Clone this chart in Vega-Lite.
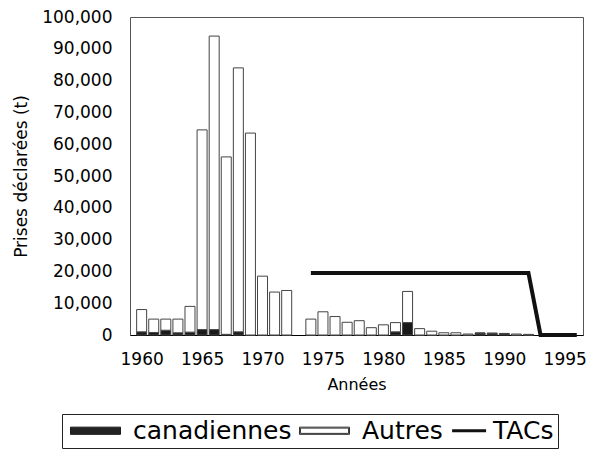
{
  "$schema": "https://vega.github.io/schema/vega-lite/v6.json",
  "autosize": {"type": "none"},
  "width": 453,
  "height": 318,
  "padding": {"left": 130, "top": 17, "right": 9, "bottom": 116},
  "background": "white",
  "config": {
    "font": "DejaVu Sans",
    "view": {"stroke": "#555", "strokeWidth": 1}
  },
  "datasets": {
    "captures": [
      {"annee": 1960, "serie": "canadiennes", "prises": 1000}, {"annee": 1960, "serie": "Autres", "prises": 7000},
      {"annee": 1961, "serie": "canadiennes", "prises": 800}, {"annee": 1961, "serie": "Autres", "prises": 4200},
      {"annee": 1962, "serie": "canadiennes", "prises": 1500}, {"annee": 1962, "serie": "Autres", "prises": 3500},
      {"annee": 1963, "serie": "canadiennes", "prises": 700}, {"annee": 1963, "serie": "Autres", "prises": 4300},
      {"annee": 1964, "serie": "canadiennes", "prises": 900}, {"annee": 1964, "serie": "Autres", "prises": 8100},
      {"annee": 1965, "serie": "canadiennes", "prises": 1700}, {"annee": 1965, "serie": "Autres", "prises": 62800},
      {"annee": 1966, "serie": "canadiennes", "prises": 1700}, {"annee": 1966, "serie": "Autres", "prises": 92300},
      {"annee": 1967, "serie": "canadiennes", "prises": 200}, {"annee": 1967, "serie": "Autres", "prises": 55800},
      {"annee": 1968, "serie": "canadiennes", "prises": 1000}, {"annee": 1968, "serie": "Autres", "prises": 83000},
      {"annee": 1969, "serie": "canadiennes", "prises": 0}, {"annee": 1969, "serie": "Autres", "prises": 63500},
      {"annee": 1970, "serie": "canadiennes", "prises": 0}, {"annee": 1970, "serie": "Autres", "prises": 18500},
      {"annee": 1971, "serie": "canadiennes", "prises": 0}, {"annee": 1971, "serie": "Autres", "prises": 13500},
      {"annee": 1972, "serie": "canadiennes", "prises": 0}, {"annee": 1972, "serie": "Autres", "prises": 14000},
      {"annee": 1974, "serie": "canadiennes", "prises": 0}, {"annee": 1974, "serie": "Autres", "prises": 5000},
      {"annee": 1975, "serie": "canadiennes", "prises": 0}, {"annee": 1975, "serie": "Autres", "prises": 7300},
      {"annee": 1976, "serie": "canadiennes", "prises": 0}, {"annee": 1976, "serie": "Autres", "prises": 5800},
      {"annee": 1977, "serie": "canadiennes", "prises": 0}, {"annee": 1977, "serie": "Autres", "prises": 4000},
      {"annee": 1978, "serie": "canadiennes", "prises": 0}, {"annee": 1978, "serie": "Autres", "prises": 4500},
      {"annee": 1979, "serie": "canadiennes", "prises": 0}, {"annee": 1979, "serie": "Autres", "prises": 2300},
      {"annee": 1980, "serie": "canadiennes", "prises": 0}, {"annee": 1980, "serie": "Autres", "prises": 3200},
      {"annee": 1981, "serie": "canadiennes", "prises": 1000}, {"annee": 1981, "serie": "Autres", "prises": 2900},
      {"annee": 1982, "serie": "canadiennes", "prises": 3900}, {"annee": 1982, "serie": "Autres", "prises": 9800},
      {"annee": 1983, "serie": "canadiennes", "prises": 0}, {"annee": 1983, "serie": "Autres", "prises": 2000},
      {"annee": 1984, "serie": "canadiennes", "prises": 0}, {"annee": 1984, "serie": "Autres", "prises": 1200},
      {"annee": 1985, "serie": "canadiennes", "prises": 0}, {"annee": 1985, "serie": "Autres", "prises": 700},
      {"annee": 1986, "serie": "canadiennes", "prises": 0}, {"annee": 1986, "serie": "Autres", "prises": 700},
      {"annee": 1987, "serie": "canadiennes", "prises": 0}, {"annee": 1987, "serie": "Autres", "prises": 300},
      {"annee": 1988, "serie": "canadiennes", "prises": 600}, {"annee": 1988, "serie": "Autres", "prises": 0},
      {"annee": 1989, "serie": "canadiennes", "prises": 500}, {"annee": 1989, "serie": "Autres", "prises": 100},
      {"annee": 1990, "serie": "canadiennes", "prises": 400}, {"annee": 1990, "serie": "Autres", "prises": 100},
      {"annee": 1991, "serie": "canadiennes", "prises": 0}, {"annee": 1991, "serie": "Autres", "prises": 300},
      {"annee": 1992, "serie": "canadiennes", "prises": 0}, {"annee": 1992, "serie": "Autres", "prises": 200}
    ],
    "tac": [
      {"annee": 1974, "serie": "TACs", "prises": 19500},
      {"annee": 1992, "serie": "TACs", "prises": 19500},
      {"annee": 1993, "serie": "TACs", "prises": 0},
      {"annee": 1994, "serie": "TACs", "prises": 0},
      {"annee": 1996, "serie": "TACs", "prises": 0}
    ]
  },
  "encoding": {
    "x": {
      "field": "annee", "type": "quantitative",
      "scale": {"domain": [1959.45, 1996.1], "nice": false, "zero": false},
      "axis": {
        "values": [1960, 1965, 1970, 1975, 1980, 1985, 1990, 1995],
        "format": "d", "title": "Années", "ticks": false, "grid": false,
        "domainColor": "#000", "labelFontSize": 17, "labelColor": "#000",
        "labelPadding": 16, "titleFontSize": 16, "titleFontWeight": "normal",
        "titleColor": "#000", "titlePadding": 9, "labelFont": "DejaVu Sans", "titleFont": "DejaVu Sans"
      }
    },
    "y": {
      "field": "prises", "type": "quantitative",
      "scale": {"domain": [0, 100000], "nice": false},
      "axis": {
        "values": [0, 10000, 20000, 30000, 40000, 50000, 60000, 70000, 80000, 90000, 100000],
        "format": ",d", "title": "Prises déclarées (t)", "ticks": false, "grid": false,
        "domain": false, "labelFontSize": 17, "labelColor": "#000", "labelPadding": 18,
        "titleFontSize": 17, "titleFontWeight": "normal", "titleColor": "#000", "titlePadding": 11,
        "labelFont": "DejaVu Sans", "titleFont": "DejaVu Sans"
      }
    },
    "color": {
      "field": "serie", "type": "nominal",
      "sort": ["canadiennes", "Autres", "TACs"],
      "scale": {"domain": ["canadiennes", "Autres", "TACs"], "range": ["#1a1a1a", "#333333", "#111111"]},
      "legend": {
        "orient": "none", "legendX": -68, "legendY": 397, "direction": "horizontal",
        "title": null, "labelFontSize": 25, "labelFont": "DejaVu Sans", "labelColor": "#000",
        "symbolSize": 256, "symbolType": "M-1,-0.45H5.25V0.45H-1Z", "labelOffset": 42, "columnPadding": 3, "padding": 4,
        "symbolStrokeWidth": 1,
        "strokeColor": "#222",
        "encode": {
          "legend": {
            "update": {
              "width": {"value": 620},
              "height": {"value": 80}
            }
          },
          "labels": {
            "update": {
              "dx": {"signal": "datum.value === 'TACs' ? -44 : 0"}
            }
          },
          "symbols": {
            "update": {
              "shape": {"signal": "datum.value === 'TACs' ? 'M-3.8,0H0.45' : (datum.value === 'Autres' ? 'M-1,-0.45H5.25V0.45H-1ZM-0.88,-0.33V0.33H5.13V-0.33Z' : 'M-1,-0.45H5.25V0.45H-1Z')"},
              "fill": {"signal": "datum.value === 'canadiennes' ? '#222' : (datum.value === 'Autres' ? '#fff' : 'transparent')"},
              "strokeWidth": {"signal": "datum.value === 'TACs' ? 3 : 1"},
              "opacity": {"value": 1}
            }
          }
        }
      }
    }
  },
  "layer": [
    {
      "data": {"name": "captures"},
      "mark": {"type": "bar", "width": 10, "stroke": "#444", "strokeWidth": 1},
      "encoding": {
        "fill": {"condition": {"test": "datum.serie === 'Autres'", "value": "#ffffff"}, "value": "#1a1a1a"}
      }
    },
    {
      "data": {"name": "tac"},
      "mark": {"type": "line", "strokeWidth": 4}
    }
  ]
}
